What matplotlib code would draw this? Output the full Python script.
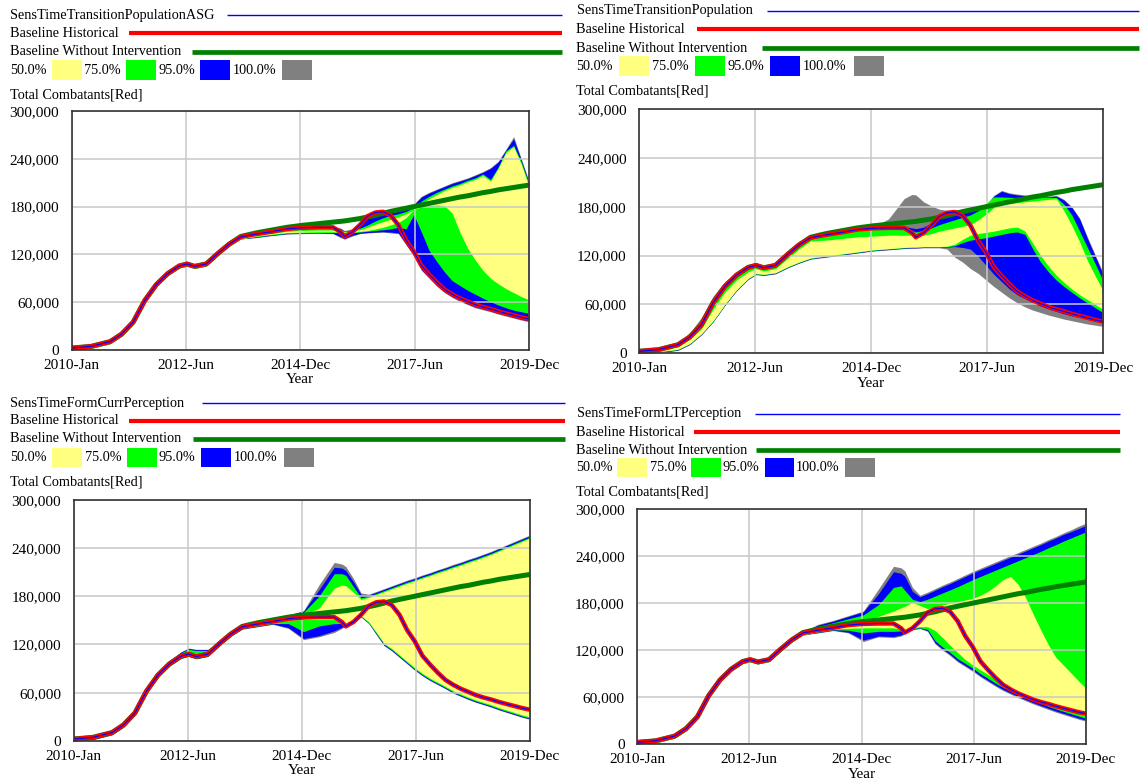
import matplotlib
matplotlib.use("Agg")
import matplotlib.pyplot as plt
from matplotlib.lines import Line2D
from matplotlib.patches import Rectangle

plt.rcParams['font.family'] = ['Liberation Serif', 'DejaVu Serif']

W, H = 1140, 784

# months since 2010-Jan, values in thousands of combatants
months = [0, 5, 10, 13, 16, 19, 22, 25, 28, 30, 32, 35, 38, 41, 44,
          48, 52, 56, 60, 64, 68, 70, 71, 73, 75, 77, 79, 81, 83, 85, 87, 89, 91, 93, 95,
          97, 99, 101, 103, 105, 107, 109, 111, 113, 115, 117, 119]

x_ticks = [0, 29.75, 59.5, 89.25, 119]
x_labels = ['2010-Jan', '2012-Jun', '2014-Dec', '2017-Jun', '2019-Dec']
y_ticks = [0, 60, 120, 180, 240, 300]
y_labels = ['0', '60,000', '120,000', '180,000', '240,000', '300,000']

historical = [2.5, 4.5, 10.5, 20, 35, 62, 82, 96, 105.5, 108, 105, 108, 121, 133, 142,
              145.5, 148.5, 152, 153.5, 154, 154, 148, 142.5, 148, 157, 168, 172.5, 173.5, 169, 157,
              138, 124, 106, 95, 85, 76, 70, 65, 61, 57, 54, 51.5, 48.5, 46, 43.5, 41, 39]

without_intervention = [2.5, 4.5, 10.5, 20, 35, 62, 82, 96, 105.5, 108, 105, 108, 121, 133, 142.5,
                        147, 150.5, 154, 156.5, 158.5, 160.5, 161.5, 162, 163.5, 165, 167, 169, 171.5,
                        174, 176, 178, 180, 182, 184, 186, 188, 190, 192, 193.5, 195.5, 197.5, 199,
                        201, 202.5, 204, 205.5, 207]

early_hi = [4, 6, 12, 21.5, 36.5, 63.5, 83.5, 97.5, 107, 109.5, 106.5, 109.5, 122.5, 134.5, 143.5]
early_lo = [0.5, 2, 8, 17.5, 32.5, 59.5, 79.5, 93.5, 103, 105.5, 102.5, 105.5, 118.5, 130.5, 139.5]

# Panel 1: SensTimeTransitionPopulationASG
p1_gray_hi = early_hi + [147, 150, 153.5, 155, 155.5, 155.5, 153, 150, 152, 160, 170, 174, 175, 175, 176, 178,
                         183, 193, 198, 202, 206, 210, 213, 216, 220, 224, 229, 237, 252, 268, 240, 212]
p1_blue_hi = early_hi + [146.5, 149.5, 153, 154.5, 155, 155, 152, 149, 151, 159, 169, 173, 174, 174, 175, 177,
                         182, 192, 197, 201, 205, 209, 212, 215, 219, 223, 228, 236, 251, 265, 238, 210]
p1_green_hi = early_hi + [145, 148, 151, 152, 152.5, 152.5, 151, 149, 150, 153, 157, 162, 166, 169, 171, 174,
                          179, 187, 193, 198, 202, 206, 209, 213, 216, 221, 214, 230, 250, 257, 236, 208]
p1_yellow_hi = early_hi + [144, 146.5, 149, 150, 150.5, 150.5, 150, 148, 149, 151, 154, 158, 161, 164, 167, 171,
                           176, 183, 190, 195, 200, 204, 207, 211, 214, 219, 212, 228, 248, 255, 233, 205]
p1_yellow_lo = early_lo + [143, 145.5, 147.5, 148, 148.5, 148.5, 148, 147.5, 148, 149, 150, 152, 154, 157, 160,
                           166, 176, 180, 181, 182, 181, 172, 148, 128, 113, 100, 90, 83, 77, 72, 67, 63]
p1_green_lo = early_lo + [142, 144.5, 146.5, 147, 147.5, 147.5, 147, 146.5, 147, 148, 149, 150, 151, 152, 154,
                          152, 170, 148, 125, 111, 98, 87, 81, 75, 70, 65, 60.5, 56.5, 53, 50, 48, 46]
p1_blue_lo = early_lo + [141.5, 144, 146, 146.5, 147, 146.5, 142, 140, 144, 146.5, 147.5, 148, 148.5, 148, 147,
                         133, 119, 101, 91, 81, 73, 67, 62, 58, 54, 51.5, 49, 46, 43.5, 41, 38.5, 36.5]
p1_gray_lo = early_lo + [141, 143.5, 145.5, 146, 146.5, 146, 141, 139, 143, 146, 147, 147.5, 148, 147, 146,
                         132, 118, 100, 90, 80, 72, 66, 61, 57, 53, 50.5, 48, 45, 42.5, 40, 37.5, 35.5]

# Panel 2: SensTimeTransitionPopulation
p2_gray_hi = [3.5, 6, 13, 25, 44, 70, 88, 99, 107, 109.5, 106.5, 109.5, 122.5, 134.5, 143.5,
              146.5, 149.5, 153, 155, 165, 190, 195, 194.5, 186, 181, 177, 175.5, 176, 176.5, 177.5, 178.5,
              182, 194, 200, 197, 195.5, 194.5, 193.5, 192.5, 193, 194, 189, 180, 166, 143, 121, 99]
p2_blue_hi = [3.5, 5.5, 12, 22, 38, 64, 84, 97.5, 107, 109, 106.5, 109.5, 122.5, 134.5, 143.5,
              146.5, 149.5, 153, 155, 155.5, 155.5, 154, 153, 155, 160, 170, 174.5, 175.5, 176, 177, 178,
              181, 193, 199, 196, 194.5, 193.5, 192.5, 191.5, 192, 193, 188, 179, 165, 141, 119, 97]
p2_green_hi = [3, 5, 11, 21, 36, 63, 83, 97, 106.5, 108.5, 106, 109, 122, 134, 143,
               145, 148, 151, 152.5, 153, 153, 151, 149, 151, 154, 158, 161, 164, 167, 170, 175,
               184, 192, 192, 191.5, 191.5, 191.5, 191.5, 191.5, 191.5, 191.5, 183, 170, 150, 130, 110, 89]
p2_yellow_hi = [2.5, 4.5, 9.5, 17, 30, 54, 75, 90, 100, 104, 101, 104, 116, 128, 138,
                139, 141, 143, 144, 145, 145, 145, 144, 145, 147, 150, 152, 154, 156, 158, 164,
                171, 179, 183, 184, 185, 186, 187, 188, 189, 190, 175, 157, 137, 114, 95, 77]
p2_yellow_lo = [1, 2, 5, 12, 24, 40, 60, 78, 92, 98, 97, 99, 106, 112, 117,
                119.5, 122, 124.5, 127, 128.5, 130, 130.5, 130.5, 131, 131, 131, 131.5, 134, 140, 145, 147,
                148.5, 150, 152, 154, 155, 150, 135, 120, 107, 96, 87, 79, 72, 66, 60, 54]
p2_green_lo = [0.5, 1.5, 4.5, 11.5, 23.5, 39.5, 59.5, 77.5, 91.5, 97.5, 96.5, 98.5, 105.5, 111.5, 116.5,
               119, 121.5, 124, 126.5, 128, 129.5, 130, 130, 130.5, 130.5, 130.5, 131, 132, 136, 139, 140.5,
               142, 144, 146, 148, 149, 146, 128, 112, 100, 90, 82, 75, 68, 62, 56, 50]
p2_blue_lo = [0.5, 1, 4, 11, 23, 39, 59, 77, 91, 97, 96, 98, 105, 111, 116,
              118.5, 121, 123.5, 126, 127.5, 129, 129.5, 129.5, 130, 130, 130, 130.5, 131, 130, 128, 119,
              108, 97, 88, 79, 72, 67, 62, 58, 54.5, 51.5, 48.5, 46, 44, 42, 40, 38]
p2_gray_lo = [0, 0.5, 3.5, 10.5, 22.5, 38.5, 58.5, 76.5, 90.5, 96.5, 95.5, 97.5, 104.5, 110.5, 115.5,
              118, 120.5, 123, 125.5, 127, 128.5, 129, 129, 129.5, 129.5, 129.5, 128, 118, 112, 104, 98,
              90, 82, 75, 68, 62, 57, 53, 50, 47, 44.5, 42, 40, 38, 36, 34.5, 33]

# Panel 3: SensTimeFormCurrPerception
p3_gray_hi = [3.5, 5.5, 12, 22, 37, 64, 85, 100, 111, 115.5, 114, 114, 123, 134.5, 143.5,
              149, 153, 157, 162, 194, 222, 220, 217, 202, 184, 182.5, 186, 189.5, 193, 196.5, 200,
              203, 206.5, 209.5, 213, 216, 219.5, 222.5, 226, 229, 232.5, 236, 240, 244, 248, 252, 256]
p3_blue_hi = [3.5, 5.5, 12, 22, 37, 64, 85, 100, 110.5, 115, 113.5, 113.5, 122.5, 134, 143,
              148.5, 152.5, 156.5, 161.5, 188, 216, 215, 212, 198, 182, 181.5, 185, 188.5, 192, 195.5, 199,
              202, 205.5, 208.5, 212, 215, 218.5, 221.5, 225, 228, 231.5, 235, 239, 243, 247, 251, 255]
p3_green_hi = [3, 5, 11.5, 21, 36, 63, 84, 99, 109.5, 114, 112.5, 112.5, 122, 133.5, 142.5,
               147.5, 151.5, 155.5, 160, 180, 208, 208, 206, 192, 178, 180, 183.5, 187, 190.5, 194, 197.5,
               200.5, 204, 207, 210.5, 213.5, 217, 220, 223.5, 226.5, 230, 233.5, 237.5, 241.5, 245.5, 249.5, 253.5]
p3_yellow_hi = [3, 5, 11, 20.5, 35.5, 62.5, 83, 97.5, 107, 111, 109, 110, 121, 133, 142,
                146.5, 150, 154, 157, 165, 190, 194, 193, 185, 176, 178.5, 182, 185.5, 189, 192.5, 196,
                199, 202.5, 205.5, 209, 212, 215.5, 218.5, 222, 225, 228.5, 232, 236, 240, 244, 248, 252]
p3_yellow_lo = [1, 3, 9, 18.5, 33.5, 60.5, 80.5, 94.5, 104, 106.5, 103.5, 106.5, 119.5, 131.5, 140.5,
                144, 147, 150.5, 151, 151, 151, 146, 144, 152, 155.5, 148, 135, 121.5, 115, 107, 99,
                91, 84, 78, 73, 68, 62.5, 58.5, 54.5, 51, 48, 45, 41.5, 38.5, 35.5, 32.5, 30]
p3_green_lo = [0.5, 2.5, 8.5, 18, 33, 60, 80, 94, 103.5, 106, 103, 106, 119, 131, 140,
               143, 146, 146, 136, 143, 146, 146, 145, 151, 155, 147, 133.5, 120, 113.5, 105.5, 97.5,
               89.5, 82.5, 76.5, 71.5, 66.5, 61, 57, 53, 49.5, 46.5, 43.5, 40, 37, 34, 31, 28.5]
p3_blue_lo = [0, 2, 8, 17.5, 32.5, 59.5, 79.5, 93.5, 103, 105.5, 102.5, 105.5, 118.5, 130.5, 139.5,
              142.5, 145.5, 141, 127.5, 131, 137, 141.5, 144, 150, 154.5, 146.5, 132.5, 119, 112.5, 104.5, 96.5,
              88.5, 81.5, 75.5, 70.5, 65.5, 60, 56, 52, 48.5, 45.5, 42.5, 39, 36, 33, 30, 27.5]
p3_gray_lo = [0, 1.5, 7.5, 17, 32, 59, 79, 93, 102.5, 105, 102, 105, 118, 130, 139,
              142, 145, 140, 126, 129.5, 135, 140, 143, 149.5, 154, 146, 132, 118.5, 112, 104, 96,
              88, 81, 75, 70, 65, 59.5, 55.5, 51.5, 48, 45, 42, 38.5, 35.5, 32.5, 29.5, 27]

# Panel 4: SensTimeFormLTPerception
p4_gray_hi = early_hi + [153, 158, 164, 170, 198, 227, 225, 221, 200, 190, 194, 198.5, 203, 207, 211.5, 216,
                         220.5, 224.5, 228.5, 232.5, 236.5, 240.5, 244.5, 248.5, 252.5, 256.5, 261, 265,
                         269.5, 273.5, 278, 282]
p4_blue_hi = early_hi + [152, 157, 163, 169, 192, 220, 218, 214, 195, 188, 192, 196.5, 201, 205, 209.5, 214,
                         218.5, 222.5, 226.5, 230.5, 234.5, 238.5, 242.5, 246.5, 250.5, 254.5, 259, 263,
                         267.5, 271, 275, 279]
p4_green_hi = early_hi + [150, 155, 160, 165, 178, 200, 202, 196, 185, 182, 185, 189, 193, 197, 201, 205.5,
                          210, 214, 218, 222, 226, 230, 234, 238, 242, 246, 250.5, 254.5, 259, 263, 267, 271]
p4_yellow_hi = early_hi + [147.5, 150.5, 154, 158, 163, 170, 174, 176, 181, 177, 173, 175, 177.5, 180, 182, 184,
                           186, 190, 195, 202, 210, 214, 204, 187, 166, 146, 127, 111, 101, 91, 81, 71.5]
p4_yellow_lo = early_lo + [144, 147, 148, 148.5, 148.5, 148.5, 147, 145, 148.5, 150, 150, 145, 136, 126, 117,
                           108, 101, 95, 89, 83, 77.5, 72, 67.5, 63, 59.5, 56, 52.5, 49, 46, 43, 39.5, 36]
p4_green_lo = early_lo + [143, 146, 145.5, 142, 144, 144, 144.5, 144, 147.5, 148.5, 146.5, 132, 124, 117, 109,
                          103, 97, 90, 84, 78, 72.5, 68, 63.5, 59.5, 55.5, 52, 48.5, 45, 42, 39, 36, 33]
p4_blue_lo = early_lo + [142.5, 145.5, 143, 133, 138, 137.5, 139.5, 142, 147, 148, 145, 129.5, 121.5, 114.5,
                         106.5, 100.5, 94.5, 87.5, 81.5, 75.5, 70, 65.5, 61, 57, 53, 49.5, 46, 42.5, 39.5,
                         36.5, 33.5, 31]
p4_gray_lo = early_lo + [142, 145, 142, 131, 137, 136, 138, 141, 146, 147.5, 144, 128, 120, 113, 105, 99, 93,
                         86, 80, 74, 68.5, 64, 59.5, 55.5, 51.5, 48, 44.5, 41, 38, 35, 32, 29.5]

band_names = ['50.0%', '75.0%', '95.0%', '100.0%']
band_colors = ['#ffff80', '#00ff00', '#0000ff', '#808080']

panels = [
    dict(title='SensTimeTransitionPopulationASG',
         lo=[p1_gray_lo, p1_blue_lo, p1_green_lo, p1_yellow_lo],
         hi=[p1_gray_hi, p1_blue_hi, p1_green_hi, p1_yellow_hi],
         box=(71.7, 111, 529, 350), tx=10, rows=(15, 33.3, 51.7, 70), total_y=95,
         starts=(227, 129, 192), end=562, pct_x=(10, 84, 158.5, 233), sw_x=(52, 126, 200, 282)),
    dict(title='SensTimeTransitionPopulation',
         lo=[p2_gray_lo, p2_blue_lo, p2_green_lo, p2_yellow_lo],
         hi=[p2_gray_hi, p2_blue_hi, p2_green_hi, p2_yellow_hi],
         box=(639, 109, 1103, 353.3), tx=576.5, rows=(10.7, 29.3, 48.3, 66), total_y=91,
         starts=(767, 697, 762), end=1139, pct_x=(576.5, 652, 727, 803), sw_x=(619, 695, 770, 854)),
    dict(title='SensTimeFormCurrPerception',
         lo=[p3_gray_lo, p3_blue_lo, p3_green_lo, p3_yellow_lo],
         hi=[p3_gray_hi, p3_blue_hi, p3_green_hi, p3_yellow_hi],
         box=(73.7, 499.7, 529.7, 741), tx=10, rows=(403.3, 420.7, 439, 457.5), total_y=481.7,
         starts=(201.7, 129, 193), end=565, pct_x=(10, 84.7, 158.9, 233.7), sw_x=(52, 127, 201, 284)),
    dict(title='SensTimeFormLTPerception',
         lo=[p4_gray_lo, p4_blue_lo, p4_green_lo, p4_yellow_lo],
         hi=[p4_gray_hi, p4_blue_hi, p4_green_hi, p4_yellow_hi],
         box=(637, 509, 1086, 744.3), tx=576.5, rows=(414, 432.3, 450, 467.5), total_y=491.7,
         starts=(754.7, 693.6, 756), end=1120, pct_x=(576.5, 650, 722.7, 796), sw_x=(617, 691, 764.5, 845)),
]

FS = 10.3      # legend text
TFS = 11       # tick labels and axis title

fig = plt.figure(figsize=(W / 100, H / 100), dpi=100)


def fx(x):
    return x / W


def fy(y):
    return 1 - y / H


for p in panels:
    l, t, r, b = p['box']
    ax = fig.add_axes([fx(l), fy(b), (r - l) / W, (b - t) / H])

    # confidence bands, widest first
    fill_colors = band_colors[::-1]
    for lo, hi, col in zip(p['lo'], p['hi'], fill_colors):
        ax.fill_between(months, lo, hi, color=col, lw=0, zorder=1)

    ax.plot(months, without_intervention, color='#008000', lw=3.6, zorder=3, solid_capstyle='butt')
    ax.plot(months, historical, color='#ff0000', lw=3.2, zorder=4)
    ax.plot(months, historical, color='#0000ff', lw=0.8, zorder=5)

    ax.set_xlim(0, 119)
    ax.set_ylim(0, 300)
    ax.set_xticks(x_ticks)
    ax.set_xticklabels(x_labels, fontsize=TFS)
    ax.set_yticks(y_ticks)
    ax.set_yticklabels(y_labels, fontsize=TFS)
    ax.tick_params(length=0)
    ax.tick_params(axis='y', pad=9)
    ax.tick_params(axis='x', pad=6.5)
    ax.set_xlabel('Year', fontsize=TFS, labelpad=1)
    ax.grid(True, color='#c8c8c8', lw=1.1)
    ax.xaxis.set_zorder(1.5)
    ax.yaxis.set_zorder(1.5)
    for s in ax.spines.values():
        s.set_color('#333333')
        s.set_linewidth(1.2)
        s.set_zorder(6)

    # legend block above the plot
    rows = p['rows']
    fig.text(fx(p['tx']), fy(rows[0]), p['title'], fontsize=FS, va='center', ha='left')
    fig.text(fx(p['tx']), fy(rows[1]), 'Baseline Historical', fontsize=FS, va='center', ha='left')
    fig.text(fx(p['tx']), fy(rows[2]), 'Baseline Without Intervention', fontsize=FS, va='center', ha='left')
    line_styles = [('#0000ff', 1.0), ('#ff0000', 3.0), ('#008000', 3.4)]
    for (col, lw), x0, yy in zip(line_styles, p['starts'], rows[:3]):
        fig.add_artist(Line2D([fx(x0), fx(p['end'])], [fy(yy), fy(yy)], color=col, lw=lw,
                              transform=fig.transFigure, solid_capstyle='butt'))
    for name, col, px, sx in zip(band_names, band_colors, p['pct_x'], p['sw_x']):
        fig.text(fx(px), fy(rows[3]), name, fontsize=FS, va='center', ha='left')
        fig.add_artist(Rectangle((fx(sx), fy(rows[3] + 9.5)), 29.5 / W, 19 / H, facecolor=col,
                                 edgecolor='none', transform=fig.transFigure))
    fig.text(fx(p['tx']), fy(p['total_y']), 'Total Combatants[Red]', fontsize=FS, va='center', ha='left')

fig.savefig('out.png', dpi=100)
